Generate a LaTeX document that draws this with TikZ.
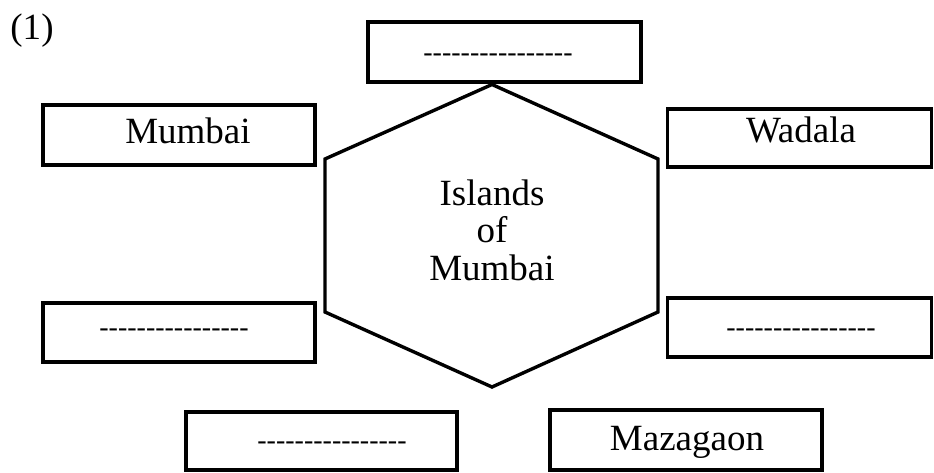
\documentclass[tikz,border=0pt]{standalone}
\usepackage{fontspec}
\setmainfont{Liberation Serif}
\newcommand\blankline{-{}-{}-{}-{}-{}-{}-{}-{}-{}-{}-{}-{}-{}-{}-{}-}
\begin{document}
\begin{tikzpicture}[x=1pt,y=-1pt,
  box/.style={draw=black,line width=3.6pt,inner sep=0pt,outer sep=0pt,fill=none},
  lbl/.style={inner sep=0pt,anchor=base,font=\fontsize{37}{37.5}\selectfont},
  dsh/.style={inner sep=0pt,anchor=base,font=\fontsize{28}{30}\selectfont}]
\useasboundingbox (0,0) rectangle (934,473);
% boxes
\node[box,minimum width=273pt,minimum height=60pt] (top) at (504.5,52) {};
\node[box,minimum width=272pt,minimum height=60pt] (mum) at (179,135) {};
\node[box,minimum width=264pt,minimum height=58pt] (wad) at (799.5,138) {};
\node[box,minimum width=272pt,minimum height=59pt] (ld) at (179,332.5) {};
\node[box,minimum width=264pt,minimum height=59pt] (rd) at (799.5,327.5) {};
\node[box,minimum width=271pt,minimum height=58pt] (bl) at (321.5,441) {};
\node[box,minimum width=272pt,minimum height=60pt] (maz) at (686,440) {};
% hexagon
\coordinate (h1) at (492,84.5);
\coordinate (h2) at (658,159);
\coordinate (h3) at (658,312);
\coordinate (h4) at (492,387);
\coordinate (h5) at (325,312);
\coordinate (h6) at (325,159);
\draw[line width=3.4pt,line join=miter] (h1) -- (h2) -- (h3) -- (h4) -- (h5) -- (h6) -- cycle;
% texts
\node[lbl] (num) at (32,40) {(1)};
\node[lbl] (tmum) at (188,144) {Mumbai};
\node[lbl] (twad) at (801,143) {Wadala};
\node[lbl] (tmaz) at (687,450) {Mazagaon};
\node[dsh] (ttop) at (498,62) {\blankline};
\node[dsh] (tld) at (174,336) {\blankline};
\node[dsh] (trd) at (801,336) {\blankline};
\node[dsh] (tbl) at (332,449) {\blankline};
\node[inner sep=0pt,align=center,font=\fontsize{37}{37.5}\selectfont] (hex) at (492,230) {Islands\\of\\Mumbai};
\end{tikzpicture}
\end{document}
